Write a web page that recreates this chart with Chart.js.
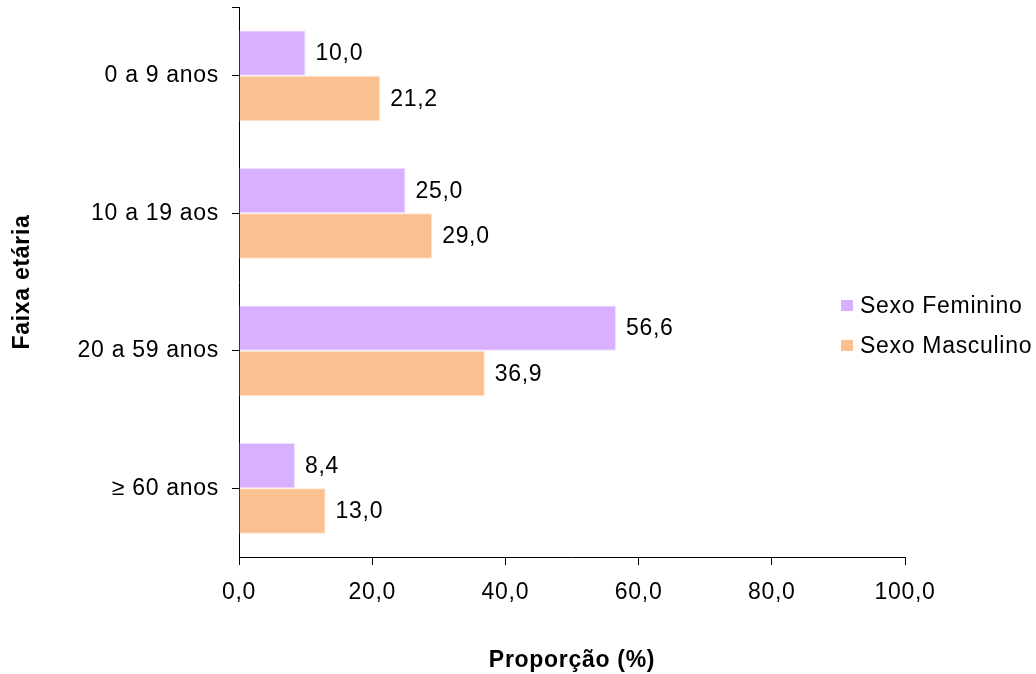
<!DOCTYPE html>
<html>
<head>
<meta charset="utf-8">
<script src="https://cdn.jsdelivr.net/npm/chart.js@4"></script>
<style>
  html, body { margin: 0; padding: 0; background: #fff; }
  #wrap { width: 1036px; height: 674px; }
</style>
</head>
<body>
<div id="wrap"><canvas id="chart" width="1036" height="674"></canvas></div>
<script>
const categories = ['0 a 9 anos', '10 a 19 aos', '20 a 59 anos', '\u2265 60 anos']
const feminino = [10.0, 25.0, 56.6, 8.4]
const masculino = [21.2, 29.0, 36.9, 13.0]
const xTicks = [0, 20, 40, 60, 80, 100]

const fmt = (v) => v.toFixed(1).replace('.', ',')
const FONT = "'Liberation Sans', Arial, sans-serif"
const SIZE = 23

// the original text is a little wider than Liberation Sans
const spacing = {
  id: 'spacing',
  beforeInit(chart) { chart.ctx.letterSpacing = '0.7px' },
  beforeLayout(chart) { chart.ctx.letterSpacing = '0.7px' },
  beforeDraw(chart) { chart.ctx.letterSpacing = '0.7px' }
}

// value labels at the end of each bar
const valueLabels = {
  id: 'valueLabels',
  afterDatasetsDraw(chart) {
    const ctx = chart.ctx
    ctx.save()
    ctx.font = SIZE + 'px ' + FONT
    ctx.fillStyle = '#000'
    ctx.textBaseline = 'middle'
    ctx.textAlign = 'left'
    chart.data.datasets.forEach((ds, i) => {
      chart.getDatasetMeta(i).data.forEach((bar, j) => {
        ctx.fillText(fmt(ds.data[j]), bar.x + 10, bar.y + 1)
      })
    })
    ctx.restore()
  }
}

// legend on the right + tick at top end of y axis
const extras = {
  id: 'extras',
  afterDraw(chart) {
    const ctx = chart.ctx
    const area = chart.chartArea
    ctx.save()
    ctx.strokeStyle = '#000'
    ctx.lineWidth = 1
    ctx.beginPath()
    ctx.moveTo(area.left - 7, area.top + 0.5)
    ctx.lineTo(area.left, area.top + 0.5)
    ctx.stroke()

    ctx.font = SIZE + 'px ' + FONT
    ctx.textBaseline = 'middle'
    ctx.textAlign = 'left'
    const rows = [305.5, 345.5]
    chart.data.datasets.forEach((ds, i) => {
      ctx.fillStyle = ds.backgroundColor
      ctx.fillRect(841, rows[i] - 5.5, 12, 11)
      ctx.fillStyle = '#000'
      ctx.fillText(ds.label, 860, rows[i] + 1)
    })
    ctx.restore()
  }
}

new Chart(document.getElementById('chart'), {
  type: 'bar',
  data: {
    labels: categories,
    datasets: [
      {
        label: 'Sexo Feminino',
        data: feminino,
        backgroundColor: '#D9B0FF',
        borderColor: '#EEDDFF',
        borderWidth: 1,
        categoryPercentage: 0.66,
        barPercentage: 1
      },
      {
        label: 'Sexo Masculino',
        data: masculino,
        backgroundColor: '#FAC090',
        borderColor: '#FDE3CC',
        borderWidth: 1,
        categoryPercentage: 0.66,
        barPercentage: 1
      }
    ]
  },
  options: {
    indexAxis: 'y',
    responsive: false,
    animation: false,
    layout: { padding: { top: 7, right: 131, left: 6, bottom: 0 } },
    plugins: {
      legend: { display: false },
      tooltip: { enabled: false }
    },
    scales: {
      x: {
        min: 0,
        max: 100,
        afterBuildTicks: (scale) => {
          scale.ticks = xTicks.map((v) => ({ value: v }))
        },
        afterFit: (scale) => { scale.height = 117 },
        ticks: {
          color: '#000',
          font: { family: FONT, size: SIZE },
          padding: 14,
          callback: (v) => fmt(v)
        },
        grid: { drawOnChartArea: false, drawTicks: true, tickLength: 8, color: '#000' },
        border: { display: true, color: '#000', width: 1 },
        title: {
          display: true,
          text: 'Propor\u00e7\u00e3o (%)',
          color: '#000',
          font: { family: FONT, size: SIZE, weight: 'bold' },
          padding: { top: 0, bottom: 0 }
        }
      },
      y: {
        afterFit: (scale) => {
          scale.width = 233
          scale.paddingTop = 0
          scale.paddingBottom = 0
        },
        ticks: {
          color: '#000',
          font: { family: FONT, size: SIZE },
          padding: 13
        },
        grid: { offset: false, drawOnChartArea: false, drawTicks: true, tickLength: 7, color: '#000' },
        border: { display: true, color: '#000', width: 1 },
        title: {
          display: true,
          text: 'Faixa et\u00e1ria',
          color: '#000',
          font: { family: FONT, size: SIZE, weight: 'bold' },
          padding: { top: 3, bottom: 0 }
        }
      }
    }
  },
  plugins: [spacing, valueLabels, extras]
})
</script>
</body>
</html>
